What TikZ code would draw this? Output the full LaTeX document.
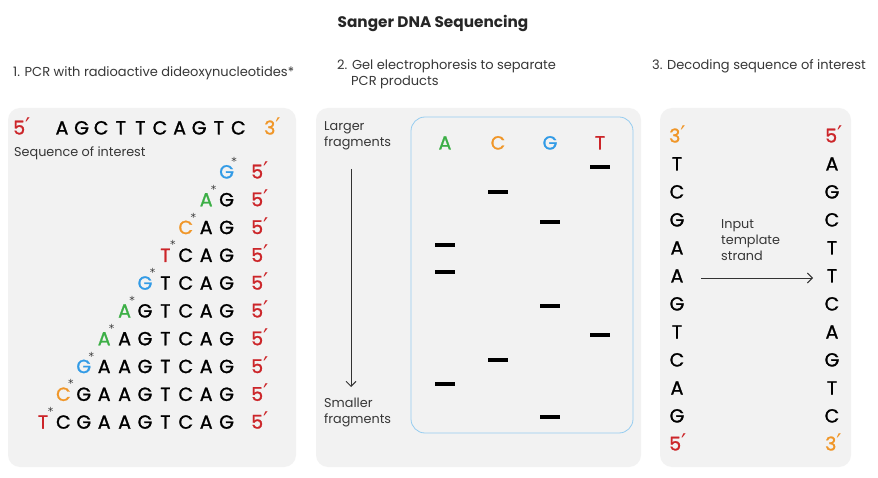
\documentclass[tikz,border=0pt]{standalone}
\usepackage{fontspec}
\setmainfont{Poppins}
\newfontfamily\primefont{DejaVu Sans}
\newfontfamily\dnafont[FakeBold=1.2]{Poppins}
\usetikzlibrary{arrows.meta,positioning}
\definecolor{colA}{RGB}{60,175,70}
\definecolor{colC}{RGB}{240,150,40}
\definecolor{colG}{RGB}{50,155,230}
\definecolor{colT}{RGB}{204,37,41}
\definecolor{panelgray}{RGB}{242,242,242}
\definecolor{gelblue}{RGB}{150,205,240}
\definecolor{textgray}{RGB}{55,55,55}
\newcommand\primemark{{\primefont\fontsize{23}{23}\selectfont\char"2032}}

\begin{document}
\begin{tikzpicture}[x=1pt,y=-1pt,
  panel/.style={fill=panelgray,rounded corners=12pt},
  heading/.style={font=\fontsize{13}{16}\selectfont,text=textgray,anchor=base west,inner sep=0},
  note/.style={font=\fontsize{12.8}{16}\selectfont,text=textgray,align=left,anchor=base west,inner sep=0},
  base/.style={font=\dnafont\fontsize{19}{19}\selectfont,inner sep=0,anchor=base},
  star/.style={font=\primefont\fontsize{11}{11}\selectfont,inner sep=0,text=textgray},
  band/.style={fill=black,minimum width=20pt,minimum height=4pt,inner sep=0},
  ptr/.style={-{Straight Barb[length=5pt,width=10pt]},line width=0.9pt,draw=black!80}]
\useasboundingbox (0,0) rectangle (878,478);
\fill[white] (0,0) rectangle (878,478);

% title and step headings
\node[font=\fontsize{15.3}{18}\selectfont\bfseries,text=black!85] (title) at (433,23) {Sanger DNA Sequencing};
\node[heading] (h1) at (13,77) {1. PCR with radioactive dideoxynucleotides*};
\node[heading] (h2) at (337,70) {2. Gel electrophoresis to separate};
\node[heading] (h2b) at (351,86) {PCR products};
\node[heading] (h3) at (652,70) {3. Decoding sequence of interest};

% panels
\fill[panel] (8,108) rectangle (296,467);
\fill[panel] (316,108) rectangle (641,467);
\fill[panel] (660,108) rectangle (851,467);

% step 1: template and terminated copies
\node[base,text=colT,anchor=base west] (t5) at (13,134.5) {5\primemark};
\foreach \b [count=\k] in {A,G,C,T,T,C,A,G,T,C}
  \node[base] (t\k) at ({62+19.6*(\k-1)},134.5) {\b};
\node[base,text=colC,anchor=base west] (t3) at (264,134.5) {3\primemark};
\node[note] (soi) at (14,157) {Sequence of interest};

\foreach \r in {1,...,10} {
  \pgfmathtruncatemacro\first{11-\r}
  \pgfmathsetmacro\yb{178.5+27.8*(\r-1)}
  \foreach \b [count=\k] in {T,C,G,A,A,G,T,C,A,G} {
    \ifnum\k=\first
      \node[base,text=col\b] (p\r-\k) at ({43+20.4*(\k-1)},\yb) {\b};
      \node[star] (s\r) at ({43+20.4*(\k-1)+7.5},{\yb-17}) {*};
    \fi
    \ifnum\k>\first
      \node[base] (p\r-\k) at ({43+20.4*(\k-1)},\yb) {\b};
    \fi
  }
  \node[base,text=colT,anchor=base west] (e\r) at (251,\yb) {5\primemark};
}

% step 2: gel
\node[note] (larger) at (324,147) {Larger\\fragments};
\node[note] (smaller) at (324,423) {Smaller\\fragments};
\coordinate (gtop) at (351,169);
\coordinate (gbot) at (351,387);
\draw[ptr] (gtop) -- (gbot);
\draw[gelblue,line width=0.8pt,rounded corners=14pt] (411,117) rectangle (633,433);
\node[base,text=colA] (lA) at (445,149.5) {A};
\node[base,text=colC] (lC) at (498,149.5) {C};
\node[base,text=colG] (lG) at (550,149.5) {G};
\node[base,text=colT] (lT) at (600,149.5) {T};
\foreach \x/\y [count=\n] in {600/167,498/192,550/222,445/245,445/272,550/306,600/335,498/360,445/384,550/417}
  \node[band] (b\n) at (\x,\y) {};

% step 3: reading the strands
\node[base,text=colC,anchor=base west] (l0) at (669,142.5) {3\primemark};
\foreach \b [count=\i] in {T,C,G,A,A,G,T,C,A,G}
  \node[base] (l\i) at (677,{142.5+28*\i}) {\b};
\node[base,text=colT,anchor=base west] (l11) at (669,450.5) {5\primemark};
\node[base,text=colT,anchor=base west] (r0) at (825,142.5) {5\primemark};
\foreach \b [count=\i] in {A,G,C,T,T,C,A,G,T,C}
  \node[base] (r\i) at (832,{142.5+28*\i}) {\b};
\node[base,text=colC,anchor=base west] (r11) at (825,450.5) {3\primemark};
\node[note] (tmpl) at (721,261) {Input\\template\\strand};
\coordinate (inA) at (701,278);
\coordinate (inB) at (813,278);
\draw[ptr] (inA) -- (inB);
\end{tikzpicture}
\end{document}
